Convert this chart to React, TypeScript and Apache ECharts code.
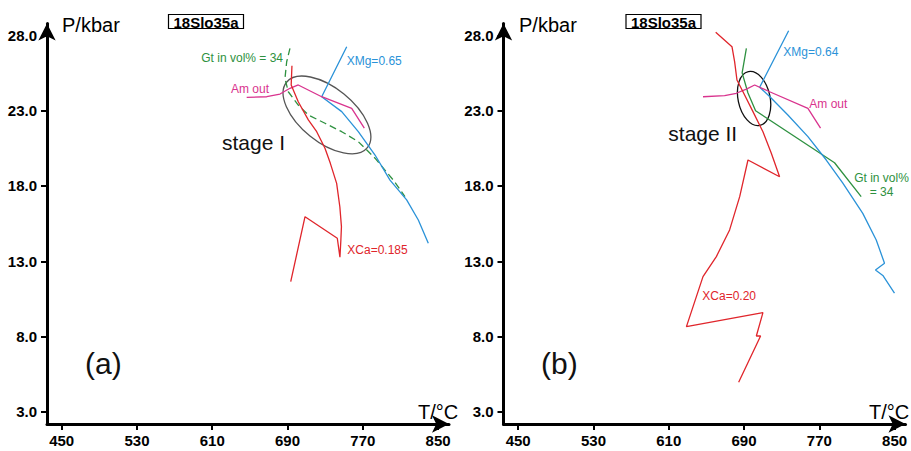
import { useEffect, useRef } from "react";
import * as echarts from "echarts";

// Axis ticks shared by both P–T panels
const T_TICKS = [450, 530, 610, 690, 770, 850];
const P_TICKS = [3, 8, 13, 18, 23, 28];
const T_MIN = 434.4;
const T_MAX = 861.6;
const P_MIN = 2.2;
const P_MAX = 28.78;

// Panel (a) isopleths, [T °C, P kbar]
const A_XCA: [number, number][] = [
  [694.7, 25.98], [693.9, 24.7], [701.4, 23.59], [712.1, 22.38], [721, 21.6],
  [729.8, 20.5], [735.5, 19.5], [742.2, 18.17], [745.6, 16.62], [747.3, 15.3],
  [746.7, 14.41], [745.7, 13.27], [742.9, 14.53], [708.6, 15.96], [693.4, 11.65],
];
const A_GT: [number, number][] = [
  [692.6, 27.13], [689.1, 26.24], [687.3, 25.14], [690.8, 24.25], [701.4, 23.37],
  [712.1, 22.71], [729.8, 22.16], [747.6, 21.6], [765.2, 20.94], [783, 19.84],
  [802.4, 18.39], [814.8, 17.29],
];
const A_XMG: [number, number][] = [
  [752.9, 27.24], [726.3, 23.92], [747.6, 22.93], [765.2, 21.6], [783, 20.05],
  [798.9, 18.39], [816.6, 17.07], [829, 15.74], [839.6, 14.19],
];
const A_AM: [number, number][] = [
  [646.6, 23.88], [667.9, 23.92], [682, 24.1], [692.6, 24.48], [701.4, 24.7],
  [726.3, 23.92], [758.2, 23.15], [771.6, 21.83],
];
const A_STAGE: [number, number][] = [[731.9, 22.71]];

// Panel (b) isopleths, [T °C, P kbar]
const B_XCA: [number, number][] = [
  [659.9, 28.2], [677.2, 27.24], [680, 26.25], [682.5, 25.03], [688.9, 24.25],
  [699.5, 22.93], [710.1, 21.6], [719, 20.17], [727.8, 18.61], [694.2, 19.72],
  [685.4, 17.29], [674.7, 15.08], [660.6, 13.31], [646.4, 11.98], [628.8, 8.66],
  [710.1, 9.59], [703.1, 8.04], [707.6, 8.04], [684.3, 4.97],
];
const B_GT: [number, number][] = [
  [692.5, 27.13], [688, 25.5], [694.2, 24.17], [702.3, 22.99], [786.2, 19.54],
  [814.5, 17.29],
];
const B_XMG: [number, number][] = [
  [737.4, 28.3], [706.6, 24.55], [717.2, 23.94], [736.6, 22.71], [757.9, 21.27],
  [777.4, 19.72], [795, 18.18], [816.2, 16.18], [830.5, 14.41], [839.3, 12.87],
  [829.7, 12.42], [837.5, 12.06], [849.9, 10.88],
];
const B_AM: [number, number][] = [
  [646.4, 23.92], [669.4, 23.99], [681.8, 24.15], [692.5, 24.43], [701.3, 24.7],
  [717.2, 24.25], [757.9, 23.15], [771.3, 21.83],
];
const B_STAGE: [number, number][] = [[700.7, 23.8]];

const RED = "#e0252b";
const GREEN = "#2e9140";
const BLUE = "#2a92d8";
const MAGENTA = "#d9338e";
const FONT = "'Liberation Sans', Arial, sans-serif";

function makeXAxis(gridIndex: number) {
  return {
    gridIndex,
    type: "value",
    min: T_MIN,
    max: T_MAX,
    axisLine: {
      show: true,
      onZero: false,
      symbol: ["none", "arrow"],
      symbolSize: [13, 17],
      lineStyle: { color: "#000", width: 3 },
    },
    axisTick: { show: true, customValues: T_TICKS, length: 6, lineStyle: { color: "#000", width: 2 } },
    axisLabel: {
      customValues: T_TICKS,
      color: "#000",
      fontWeight: "bold",
      fontSize: 15,
      fontFamily: FONT,
      margin: 9,
    },
    splitLine: { show: false },
  };
}

function makeYAxis(gridIndex: number) {
  return {
    gridIndex,
    type: "value",
    min: P_MIN,
    max: P_MAX,
    axisLine: {
      show: true,
      onZero: false,
      symbol: ["none", "arrow"],
      symbolSize: [13, 17],
      lineStyle: { color: "#000", width: 3 },
    },
    axisTick: { show: true, customValues: P_TICKS, length: 6, lineStyle: { color: "#000", width: 2 } },
    axisLabel: {
      customValues: P_TICKS,
      formatter: (v: number) => v.toFixed(1),
      color: "#000",
      fontWeight: "bold",
      fontSize: 15,
      fontFamily: FONT,
      margin: 10,
    },
    splitLine: { show: false },
  };
}

function line(idx: number, data: [number, number][], color: string, dashed = false) {
  return {
    type: "line",
    xAxisIndex: idx,
    yAxisIndex: idx,
    data,
    showSymbol: false,
    symbol: "none",
    silent: true,
    clip: false,
    lineStyle: { color, width: 1.3, type: dashed ? [7, 4] : "solid" },
  };
}

function stageEllipse(idx: number, data: [number, number][], rx: number, ry: number, deg: number, color: string) {
  return {
    type: "custom",
    coordinateSystem: "cartesian2d",
    xAxisIndex: idx,
    yAxisIndex: idx,
    data,
    silent: true,
    clip: false,
    renderItem: (_p: any, api: any) => {
      const c = api.coord([api.value(0), api.value(1)]);
      return {
        type: "ellipse",
        x: c[0],
        y: c[1],
        rotation: (deg * Math.PI) / 180,
        shape: { cx: 0, cy: 0, rx, ry },
        style: { fill: "none", stroke: color, lineWidth: 1.3 },
      };
    },
  };
}

function txt(x: number, y: number, text: string, size: number, color: string, align = "left", extra: any = {}) {
  return {
    type: "text",
    x,
    y,
    style: {
      text,
      fill: color,
      font: `${extra.weight || "normal"} ${size}px ${FONT}`,
      align,
      verticalAlign: "middle",
      lineHeight: extra.lineHeight,
    },
  };
}

function sampleBox(x: number) {
  return [
    { type: "rect", shape: { x: x + 0.5, y: 14.5, width: 75, height: 14 }, style: { fill: "#fff", stroke: "#000", lineWidth: 1.2 } },
    txt(x + 38, 22, "18Slo35a", 15, "#000", "center", { weight: "bold" }),
  ];
}

export default function App() {
  const ref = useRef<HTMLDivElement>(null);

  useEffect(() => {
    document.body.style.margin = "0";
    if (!ref.current) return;
    const chart = echarts.init(ref.current, null, { renderer: "svg" });
    chart.setOption({
      animation: false,
      backgroundColor: "#fff",
      grid: [
        { left: 47, top: 23.5, width: 402, height: 400.5 },
        { left: 503.5, top: 23.5, width: 402, height: 400.5 },
      ],
      xAxis: [makeXAxis(0), makeXAxis(1)],
      yAxis: [makeYAxis(0), makeYAxis(1)],
      series: [
        stageEllipse(0, A_STAGE, 52, 27, -39, "#555"),
        line(0, A_GT, GREEN, true),
        line(0, A_XMG, BLUE),
        line(0, A_AM, MAGENTA),
        line(0, A_XCA, RED),
        stageEllipse(1, B_STAGE, 16, 27.5, 12, "#111"),
        line(1, B_GT, GREEN),
        line(1, B_XMG, BLUE),
        line(1, B_AM, MAGENTA),
        line(1, B_XCA, RED),
      ],
      graphic: [
        // panel (a)
        txt(62, 25, "P/kbar", 20, "#000"),
        txt(418, 412, "T/°C", 20, "#000"),
        ...sampleBox(168),
        txt(283, 58, "Gt in vol% = 34", 12, GREEN, "right"),
        txt(346.7, 61, "XMg=0.65", 12, BLUE),
        txt(231, 88.5, "Am out", 12, MAGENTA),
        txt(347.3, 250, "XCa=0.185", 12, RED),
        txt(222, 142, "stage I", 21, "#111"),
        txt(85, 363, "(a)", 30, "#111"),
        // panel (b)
        txt(519, 25, "P/kbar", 20, "#000"),
        txt(869, 412, "T/°C", 20, "#000"),
        ...sampleBox(625.5),
        txt(783.3, 52, "XMg=0.64", 12, BLUE),
        txt(809.3, 104, "Am out", 12, MAGENTA),
        txt(881.5, 185, "Gt in vol%\n= 34", 12, GREEN, "center", { lineHeight: 13.4 }),
        txt(702.3, 296, "XCa=0.20", 12, RED),
        txt(668.3, 133.3, "stage II", 21, "#111"),
        txt(541, 363.3, "(b)", 30, "#111"),
      ],
    });
    return () => chart.dispose();
  }, []);

  return <div ref={ref} style={{ width: 911, height: 451 }} />;
}
